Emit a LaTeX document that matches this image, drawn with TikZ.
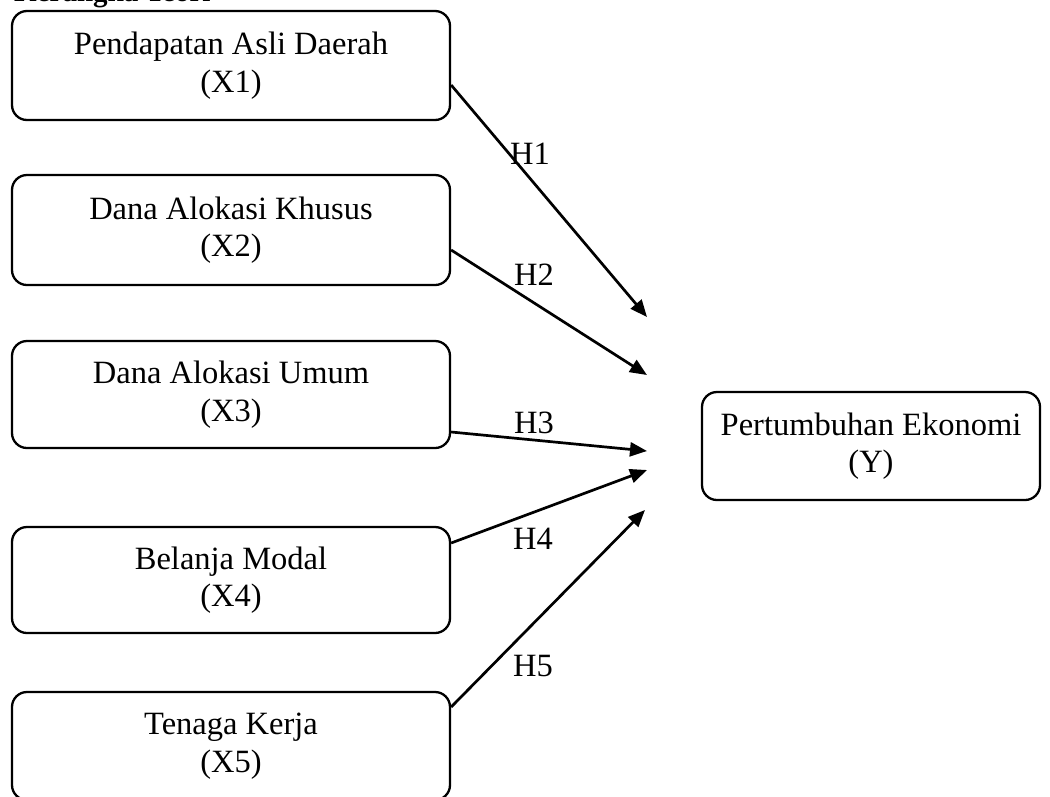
\documentclass[tikz,border=0pt]{standalone}
\usepackage{fontspec}
\setmainfont{Liberation Serif}
\usetikzlibrary{arrows.meta}
\begin{document}
\begin{tikzpicture}[x=1pt,y=-1pt,
  varbox/.style={draw, rounded corners=15pt, line width=2.3pt, minimum width=438pt,
    align=center, inner sep=0pt, font=\fontsize{32.5}{37.5}\selectfont},
  hlabel/.style={inner sep=0pt, font=\fontsize{32.5}{36}\selectfont},
  hyparrow/.style={line width=2.7pt, -{Triangle[length=17pt,width=14pt]}}]
\useasboundingbox (0,0) rectangle (1050,796);
\node[anchor=base west, inner sep=0pt, font=\fontsize{29}{32}\selectfont\bfseries] (title) at (14,1) {Kerangka Teori};
\node[varbox, minimum height=109pt] (b1) at (231,65.5) {Pendapatan Asli Daerah\\(X1)};
\node[varbox, minimum height=110pt] (b2) at (231,230) {Dana Alokasi Khusus\\(X2)};
\node[varbox, minimum height=107pt] (b3) at (231,394.5) {Dana Alokasi Umum\\(X3)};
\node[varbox, minimum height=106pt] (b4) at (231,580) {Belanja Modal\\(X4)};
\node[varbox, minimum height=108pt] (b5) at (231,746) {Tenaga Kerja\\(X5)};
\node[varbox, minimum width=338pt, minimum height=108pt] (y) at (871,446) {Pertumbuhan Ekonomi\\(Y)};
\coordinate (e1) at (647,317);
\coordinate (e2) at (647,375);
\coordinate (e3) at (647,451);
\coordinate (e4) at (647,470);
\coordinate (e5) at (645,510);
\draw[hyparrow] ([yshift=-19.5pt]b1.east) -- (e1);
\draw[hyparrow] ([yshift=-20pt]b2.east) -- (e2);
\draw[hyparrow] ([yshift=-37.5pt]b3.east) -- (e3);
\draw[hyparrow] ([yshift=37pt]b4.east) -- (e4);
\draw[hyparrow] ([yshift=39pt]b5.east) -- (e5);
\node[hlabel] (h1) at (530,154) {H1};
\node[hlabel] (h2) at (534,275) {H2};
\node[hlabel] (h3) at (534,423) {H3};
\node[hlabel] (h4) at (533,539) {H4};
\node[hlabel] (h5) at (533,666) {H5};
\end{tikzpicture}
\end{document}
